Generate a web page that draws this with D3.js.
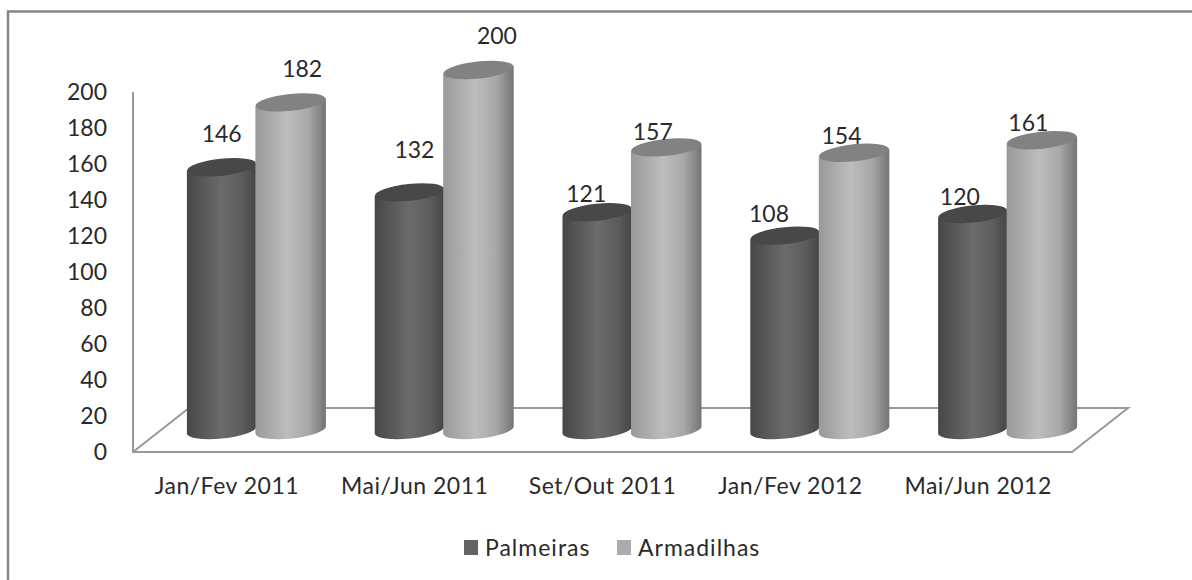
<!DOCTYPE html>
<html><head><meta charset="utf-8">
<script src="https://cdn.jsdelivr.net/npm/d3@7/dist/d3.min.js"></script>
<style>html,body{margin:0;padding:0;background:#fff}svg{display:block}text{font-family:Lato,"Open Sans",sans-serif;fill:#2a2a2a}</style>
</head><body><svg id="c" width="1192" height="580"></svg>
<script>
const categories=["Jan/Fev 2011","Mai/Jun 2011","Set/Out 2011","Jan/Fev 2012","Mai/Jun 2012"];
const seriesNames=["Palmeiras","Armadilhas"];
const palmeiras=[146,132,121,108,120];
const armadilhas=[182,200,157,154,161];
const yTicks=[0,20,40,60,80,100,120,140,160,180,200];
const seriesColors=["#636363","#ababab"];
const svg=d3.select("#c");
const y=d3.scaleLinear().domain([0,200]).range([452,92]);
const x=d3.scaleBand().domain(categories).range([133,1072]);
const inner=d3.scaleBand().domain(seriesNames).range([0,139]);
const defs=svg.append("defs");
function grad(id,stops){const g=defs.append("linearGradient").attr("id",id);stops.forEach(s=>g.append("stop").attr("offset",s[0]).attr("stop-color",s[1]));}
grad("g0",[[0,"#474747"],[.5,"#6b6b6b"],[.8,"#5c5c5c"],[1,"#454545"]]);
grad("g1",[[0,"#999"],[.45,"#bdbdbd"],[.75,"#a8a8a8"],[1,"#747474"]]);
const topColors=["#484848","#828282"];
svg.append("path").attr("d","M8,580V11.5H1192").attr("fill","none").attr("stroke","#868686").attr("stroke-width",2.5);
const depthX=56,depthY=44;
const x0=x.range()[0],x1=x.range()[1];
svg.append("path").attr("d",`M${x0},${y(200)}V${y(0)}H${x1}L${x1+depthX},${y(0)-depthY}H${x0+depthX}L${x0},${y(0)}`)
 .attr("fill","none").attr("stroke","#999").attr("stroke-width",2);
const series=[palmeiras,armadilhas];
const ry=8.5,tilt=-6,baseShift=22;
categories.forEach((c,ci)=>{
 const cx0=x(c)+x.bandwidth()/2-40;
 seriesNames.forEach((s,si)=>{
  const left=cx0+inner(s)-(si?1:0),w=inner.bandwidth()+(si?1:0);
  const r=w/2,cx=left+r,base=y(0)-baseShift,top=y(series[si][ci])-baseShift;
  const dy=r*Math.sin(tilt*Math.PI/180);
  const g=svg.append("g");
  g.append("path").attr("d",`M${left},${top-dy}L${left+w},${top+dy}L${left+w},${base+dy}A${r},${ry} ${tilt} 0 1 ${left},${base-dy}Z`).attr("fill",`url(#g${si})`);
  g.append("ellipse").attr("cx",cx).attr("cy",top).attr("rx",r).attr("ry",ry).attr("transform",`rotate(${tilt} ${cx} ${top})`).attr("fill",topColors[si]);
 });
});
// label layout nudges: [dx, dy] from each bar's centre and value position
const labelNudge=[[[0,-47],[11,-47]],[[5,-56],[18,-48]],[[-11,-32],[-14,-29]],[[-16,-36],[-13,-31]],[[-13,-31],[-14,-31]]];
categories.forEach((c,ci)=>{
 seriesNames.forEach((s,si)=>{
  const cxs=x(c)+x.bandwidth()/2-40+inner(s)+inner.bandwidth()/2;
  const n=labelNudge[ci][si];
  svg.append("text").attr("x",cxs+n[0]).attr("y",y(series[si][ci])+n[1]).attr("text-anchor","middle").attr("font-size",23).text(series[si][ci]);
 });
});
yTicks.forEach(t=>svg.append("text").attr("x",107).attr("y",y(t)+8).attr("text-anchor","end").attr("font-size",23).text(t));
categories.forEach(c=>svg.append("text").attr("x",x(c)+x.bandwidth()/2).attr("y",494).attr("text-anchor","middle").attr("font-size",23).attr("letter-spacing",0.5).text(c));
const legendX=[464,617];
seriesNames.forEach((s,i)=>{
 svg.append("rect").attr("x",legendX[i]).attr("y",540).attr("width",14).attr("height",15).attr("fill",seriesColors[i]);
 svg.append("text").attr("x",legendX[i]+21).attr("y",556).attr("font-size",23).attr("letter-spacing",1).text(s);
});
</script></body></html>
